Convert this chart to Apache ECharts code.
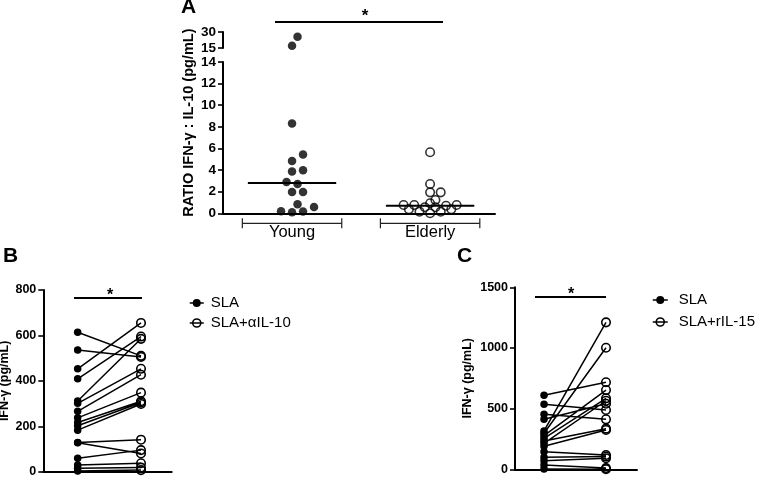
<!DOCTYPE html>
<html><head><meta charset="utf-8">
<script src="https://cdn.jsdelivr.net/npm/echarts@6/dist/echarts.min.js"></script>
<style>html,body{margin:0;padding:0;background:#fff}#c{width:762px;height:477px}</style>
</head><body><div id="c"></div>
<script>
// ---------- Panel A data ----------
const groupsA = ['Young', 'Elderly'];
const youngRatio = [25.6, 17.2, 8.3, 5.43, 4.85, 3.98, 3.86, 2.9, 2.71, 1.97, 1.97, 0.83, 0.58, 0.19, 0.16, 0.1];
const elderlyRatio = [5.65, 2.71, 1.94, 1.94, 1.23, 0.93, 0.77, 0.77, 0.77, 0.7, 0.56, 0.56, 0.37, 0.37, 0.15, 0.15, 0.0];
const mediansA = [2.8, 0.7];
const ticksALow = [0, 2, 4, 6, 8, 10, 12, 14];
const ticksAHigh = [15, 30];
const yTitleA = 'RATIO IFN-γ : IL-10 (pg/mL)';

// ---------- Panel B data ----------
const bSLA      = [614, 536, 453, 409, 311, 301, 266, 237, 217, 202, 183, 129, 127, 59, 29, 15, 3];
const bSLAaIL10 = [510, 505, 655, 595, 585, 453, 427, 348, 310, 305, 298, 141, 80, 95, 37, 18, 7];
const legendB = ['SLA', 'SLA+αIL-10'];

// ---------- Panel C data ----------
const cSLA      = [610, 536, 453, 412, 316, 297, 277, 255, 233, 214, 190, 145, 99, 71, 35, 3];
const cSLArIL15 = [717, 489, 412, 540, 1211, 1002, 653, 585, 335, 565, 324, 118, 105, 91, 10, 0];
const legendC = ['SLA', 'SLA+rIL-15'];
const yTitleBC = 'IFN-γ (pg/mL)';

// ---------- layout ----------
const FONT = '"Liberation Sans", Arial, sans-serif';
const LA = {left: 223, width: 272, lowTop: 62, lowH: 151.3, upTop: 32, upH: 16, xmin: 0.5, xmax: 2.47};
const LB = {left: 43.3, top: 290, width: 128.4, height: 181.7, xmin: 0.457, xmax: 2.485};
const LC = {left: 515, top: 287.3, width: 122, height: 182, xmin: 0.532, xmax: 2.5};
const BREAK = 14.5;

const pxX = LA.width / (LA.xmax - LA.xmin);
const pxYLow = LA.lowH / 14;
const pxYUp = LA.upH / 15;

function swarm(vals, center, pxY, step, diam) {
  const idx = vals.map((v, i) => i).sort((a, b) => vals[a] - vals[b]);
  const placed = [];
  const out = [];
  idx.forEach(i => {
    const py = vals[i] * pxY;
    for (let k = 0; k < 60; k++) {
      const m = k === 0 ? 0 : (k % 2 ? Math.ceil(k / 2) : -k / 2);
      const dx = m * step;
      if (placed.every(p => (p.dx - dx) ** 2 + (p.py - py) ** 2 >= diam * diam)) {
        placed.push({dx, py});
        out.push([center + dx / pxX, vals[i]]);
        break;
      }
    }
  });
  return out;
}
function split(vals, center, step, diam) {
  const low = vals.filter(v => v < BREAK), high = vals.filter(v => v >= BREAK);
  return {low: swarm(low, center, pxYLow, step, diam), high: swarm(high, center, pxYUp, step, diam)};
}
const youngPts = split(youngRatio, 1, 5.5, 9);
const elderlyPts = split(elderlyRatio, 2, 5.3, 6.2);

function pairData(a, b) {
  const d = [];
  a.forEach((v, i) => { d.push([1, v]); d.push([2, b[i]]); d.push(['-', '-']); });
  return d;
}
function rightData(b) {
  const d = [];
  b.forEach(v => { d.push([2, v]); d.push(['-', '-']); });
  return d;
}

const axisLineS = {show: true, lineStyle: {color: '#000', width: 2}};
const tickS = {show: true, length: 5, lineStyle: {color: '#000', width: 1.6}};
const hollow = {color: 'rgba(0,0,0,0)', borderColor: '#000', borderWidth: 1.6};

const chart = echarts.init(document.getElementById('c'));
chart.setOption({
  animation: false,
  textStyle: {fontFamily: FONT, color: '#000'},
  grid: [
    {left: LA.left, top: LA.lowTop, width: LA.width, height: LA.lowH, outerBoundsMode: 'none'},
    {left: LA.left, top: LA.upTop, width: LA.width, height: LA.upH, outerBoundsMode: 'none'},
    {left: LA.left, top: LA.upTop, width: 1, height: LA.lowTop + LA.lowH - LA.upTop, outerBoundsMode: 'none'},
    {left: LB.left, top: LB.top, width: LB.width, height: LB.height, outerBoundsMode: 'none'},
    {left: LC.left, top: LC.top, width: LC.width, height: LC.height, outerBoundsMode: 'none'}
  ],
  xAxis: [
    {gridIndex: 0, type: 'value', min: LA.xmin, max: LA.xmax, axisLine: axisLineS, axisTick: {show: false},
     splitLine: {show: false},
     axisLabel: {customValues: [1, 2], formatter: v => groupsA[Math.round(v) - 1], fontSize: 16.5, color: '#000', margin: 11, fontFamily: FONT}},
    {gridIndex: 1, type: 'value', min: LA.xmin, max: LA.xmax, show: false},
    {gridIndex: 2, type: 'value', show: false},
    {gridIndex: 3, type: 'value', min: LB.xmin, max: LB.xmax, axisLine: axisLineS, axisTick: {show: false}, axisLabel: {show: false}, splitLine: {show: false}},
    {gridIndex: 4, type: 'value', min: LC.xmin, max: LC.xmax, axisLine: axisLineS, axisTick: {show: false}, axisLabel: {show: false}, splitLine: {show: false}}
  ],
  yAxis: [
    {gridIndex: 0, type: 'value', min: 0, max: 14, interval: 2, axisLine: axisLineS, axisTick: tickS, splitLine: {show: false},
     axisLabel: {fontSize: 13.5, fontWeight: 'bold', color: '#000', margin: 7, fontFamily: FONT, customValues: ticksALow}},
    {gridIndex: 1, type: 'value', min: 15, max: 30, interval: 15, axisLine: axisLineS, axisTick: tickS, splitLine: {show: false},
     axisLabel: {fontSize: 13.5, fontWeight: 'bold', color: '#000', margin: 7, fontFamily: FONT, customValues: ticksAHigh}},
    {gridIndex: 2, type: 'value', axisLine: {show: false}, axisTick: {show: false}, axisLabel: {show: false}, splitLine: {show: false},
     name: yTitleA, nameLocation: 'middle', nameGap: 27,
     nameTextStyle: {fontSize: 14.5, fontWeight: 'bold', color: '#000', fontFamily: FONT}},
    {gridIndex: 3, type: 'value', min: 0, max: 800, interval: 200, axisLine: axisLineS, axisTick: tickS, splitLine: {show: false},
     axisLabel: {fontSize: 12.5, fontWeight: 'bold', color: '#000', margin: 7, fontFamily: FONT, formatter: v => String(v)},
     name: yTitleBC, nameLocation: 'middle', nameGap: 29,
     nameTextStyle: {fontSize: 12.5, fontWeight: 'bold', color: '#000', fontFamily: FONT}},
    {gridIndex: 4, type: 'value', min: 0, max: 1500, interval: 500, axisLine: axisLineS, axisTick: tickS, splitLine: {show: false},
     axisLabel: {fontSize: 12.5, fontWeight: 'bold', color: '#000', margin: 7, fontFamily: FONT, formatter: v => String(v)},
     name: yTitleBC, nameLocation: 'middle', nameGap: 41,
     nameTextStyle: {fontSize: 12.5, fontWeight: 'bold', color: '#000', fontFamily: FONT}}
  ],
  legend: [
    {left: 189, top: 295.5, padding: 0, orient: 'vertical', itemWidth: 14, itemHeight: 10, itemGap: 5, selectedMode: false,
     textStyle: {fontSize: 15, color: '#000', fontFamily: FONT, padding: [0, 0, 0, 2]},
     data: [
       {name: legendB[0], itemStyle: {color: '#000', borderWidth: 0}, lineStyle: {color: '#000', width: 1.5}},
       {name: legendB[1], itemStyle: hollow, lineStyle: {color: '#000', width: 1.5}}
     ]},
    {left: 652, top: 292.5, padding: 0, orient: 'vertical', itemWidth: 15, itemHeight: 10, itemGap: 7, selectedMode: false,
     textStyle: {fontSize: 15, color: '#000', fontFamily: FONT, padding: [0, 0, 0, 6]},
     data: [
       {name: legendC[0], itemStyle: {color: '#000', borderWidth: 0}, lineStyle: {color: '#000', width: 1.5}},
       {name: legendC[1], itemStyle: hollow, lineStyle: {color: '#000', width: 1.5}}
     ]}
  ],
  series: [
    // Panel A
    {type: 'custom', xAxisIndex: 0, yAxisIndex: 0, clip: false, silent: true, data: [[1, 0], [2, 0]],
     renderItem: (params, api) => {
       const c = api.value(0);
       const p1 = api.coord([c - 0.36, 0]), p2 = api.coord([c + 0.36, 0]);
       const y = p1[1] + 10;
       const st = {stroke: '#222', lineWidth: 1.2};
       return {type: 'group', children: [
         {type: 'line', shape: {x1: p1[0], y1: y, x2: p2[0], y2: y}, style: st},
         {type: 'line', shape: {x1: p1[0], y1: y - 5, x2: p1[0], y2: y + 5}, style: st},
         {type: 'line', shape: {x1: p2[0], y1: y - 5, x2: p2[0], y2: y + 5}, style: st}
       ]};
     }},
    {type: 'scatter', xAxisIndex: 0, yAxisIndex: 0, data: youngPts.low, symbolSize: 8.5, itemStyle: {color: '#000'}, silent: true},
    {type: 'scatter', xAxisIndex: 1, yAxisIndex: 1, data: youngPts.high, symbolSize: 8.5, itemStyle: {color: '#000'}, silent: true},
    {type: 'scatter', xAxisIndex: 0, yAxisIndex: 0, data: elderlyPts.low, symbolSize: 8.5, itemStyle: hollow, silent: true},
    {type: 'scatter', xAxisIndex: 1, yAxisIndex: 1, data: elderlyPts.high, symbolSize: 8.5, itemStyle: hollow, silent: true},
    {type: 'custom', xAxisIndex: 0, yAxisIndex: 0, silent: true, z: 5,
     data: mediansA.map((m, i) => [i + 1, m]),
     renderItem: (params, api) => {
       const c = api.value(0), m = api.value(1);
       const p1 = api.coord([c - 0.32, m]), p2 = api.coord([c + 0.32, m]);
       return {type: 'line', shape: {x1: p1[0], y1: p1[1], x2: p2[0], y2: p2[1]}, style: {stroke: '#000', lineWidth: 2}};
     }},
    // Panel B
    {name: legendB[0], type: 'line', xAxisIndex: 3, yAxisIndex: 3, data: pairData(bSLA, bSLAaIL10),
     symbol: v => (v[0] === 1 ? 'circle' : 'none'), symbolSize: 7.5, itemStyle: {color: '#000'},
     lineStyle: {color: '#000', width: 1.5}, silent: true},
    {name: legendB[1], type: 'line', xAxisIndex: 3, yAxisIndex: 3, data: rightData(bSLAaIL10),
     symbol: 'circle', symbolSize: 8.5, itemStyle: hollow, lineStyle: {color: '#000', width: 1.5}, silent: true},
    // Panel C
    {name: legendC[0], type: 'line', xAxisIndex: 4, yAxisIndex: 4, data: pairData(cSLA, cSLArIL15),
     symbol: v => (v[0] === 1 ? 'circle' : 'none'), symbolSize: 7.5, itemStyle: {color: '#000'},
     lineStyle: {color: '#000', width: 1.5}, silent: true},
    {name: legendC[1], type: 'line', xAxisIndex: 4, yAxisIndex: 4, data: rightData(cSLArIL15),
     symbol: 'circle', symbolSize: 8.5, itemStyle: hollow, lineStyle: {color: '#000', width: 1.5}, silent: true}
  ],
  graphic: [
    {type: 'text', left: 181, top: -3, style: {text: 'A', font: 'bold 21px ' + FONT, fill: '#000'}},
    {type: 'text', left: 3, top: 246, style: {text: 'B', font: 'bold 21px ' + FONT, fill: '#000'}},
    {type: 'text', left: 457, top: 246, style: {text: 'C', font: 'bold 21px ' + FONT, fill: '#000'}},
    {type: 'line', shape: {x1: 275, y1: 22, x2: 443, y2: 22}, style: {stroke: '#000', lineWidth: 2}},
    {type: 'text', x: 365, y: 16.5, style: {text: '*', font: 'bold 17px ' + FONT, fill: '#000', align: 'center', verticalAlign: 'middle'}},
    {type: 'line', shape: {x1: 74, y1: 298, x2: 142, y2: 298}, style: {stroke: '#000', lineWidth: 1.8}},
    {type: 'text', x: 110, y: 295.5, style: {text: '*', font: 'bold 16px ' + FONT, fill: '#000', align: 'center', verticalAlign: 'middle'}},
    {type: 'line', shape: {x1: 535, y1: 297, x2: 606, y2: 297}, style: {stroke: '#000', lineWidth: 1.8}},
    {type: 'text', x: 571, y: 294.5, style: {text: '*', font: 'bold 16px ' + FONT, fill: '#000', align: 'center', verticalAlign: 'middle'}}
  ]
});
</script>
</body></html>
